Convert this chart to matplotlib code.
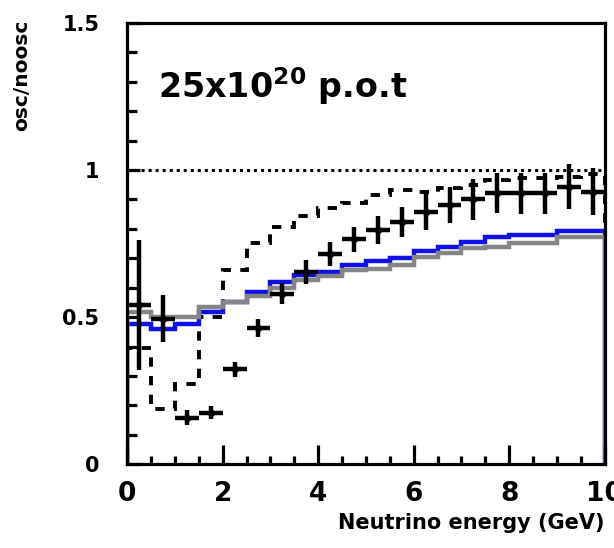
import numpy as np
import matplotlib
matplotlib.use('Agg')
import matplotlib.pyplot as plt

plt.rcParams['font.family'] = ['DejaVu Sans']
plt.rcParams['font.weight'] = 'bold'

# bin edges (GeV) and centres
edges = np.arange(0, 10.5, 0.5)
centres = edges[:-1] + 0.25

blue = [0.475, 0.461, 0.475, 0.518, 0.552, 0.586, 0.618, 0.643, 0.654, 0.677,
        0.690, 0.702, 0.726, 0.739, 0.756, 0.773, 0.779, 0.779, 0.794, 0.794]
gray = [0.518, 0.499, 0.499, 0.535, 0.552, 0.572, 0.600, 0.627, 0.639, 0.660,
        0.663, 0.677, 0.703, 0.717, 0.735, 0.739, 0.753, 0.753, 0.773, 0.773]
dashed = [0.394, 0.187, 0.273, 0.500, 0.661, 0.753, 0.807, 0.844, 0.870, 0.887,
          0.915, 0.933, 0.926, 0.938, 0.949, 0.966, 0.972, 0.972, 0.977, 0.986]

pts = [0.541, 0.495, 0.158, 0.175, 0.322, 0.464, 0.580, 0.654, 0.714, 0.764,
       0.796, 0.824, 0.858, 0.881, 0.900, 0.921, 0.921, 0.921, 0.943, 0.926]
errs = [0.220, 0.080, 0.025, 0.022, 0.025, 0.030, 0.035, 0.040, 0.040, 0.042,
        0.048, 0.050, 0.063, 0.062, 0.069, 0.068, 0.070, 0.070, 0.077, 0.080]

fig = plt.figure(figsize=(6.14, 5.48), dpi=100)
ax = fig.add_axes([0.207, 0.153, 0.778, 0.805])

ax.axhline(1.0, color='black', lw=2.2, ls=(0, (1, 1.3)))
ax.stairs(dashed, edges, baseline=0, color='black', lw=2.8, ls=(0, (2.4, 2.4)))
ax.stairs(blue, edges, color='#1010e8', lw=3.2)
ax.stairs(gray, edges, color='#858585', lw=3.2)
ax.errorbar(centres, pts, yerr=errs, xerr=0.25, fmt='D', color='black',
            ms=4, elinewidth=3.2, capsize=0)

ax.set_xlim(0, 10)
ax.set_ylim(0, 1.5)
ax.set_xticks(np.arange(0, 11, 2))
ax.set_xticks(np.arange(0, 10.5, 0.5), minor=True)
ax.set_yticks([0, 0.5, 1, 1.5])
ax.set_yticklabels(['0', '0.5', '1', '1.5'])
ax.set_yticks(np.arange(0, 1.51, 0.1), minor=True)

for s in ax.spines.values():
    s.set_linewidth(2.3)
ax.tick_params(axis='x', which='major', direction='in', length=14, width=2.3,
               pad=12, labelsize=19)
ax.tick_params(axis='x', which='minor', direction='in', length=6, width=2.3)
ax.tick_params(axis='y', which='major', direction='in', length=9, width=2.3,
               pad=20, labelsize=15)
ax.tick_params(axis='y', which='minor', direction='in', length=7, width=2.3)
for lab in ax.get_xticklabels() + ax.get_yticklabels():
    lab.set_fontweight('heavy')

ax.text(0.65, 1.245, r'25x10$^{\mathbf{20}}$ p.o.t', va='baseline',
        fontsize=24, fontweight='heavy')

fig.text(0.036, 0.965, 'osc/noosc', rotation=90, ha='center', va='top',
         fontsize=14.5, fontweight='heavy')
fig.text(0.985, 0.045, 'Neutrino energy (GeV)', ha='right', va='center',
         fontsize=15, fontweight='heavy')

fig.savefig('out.png', dpi=100)
